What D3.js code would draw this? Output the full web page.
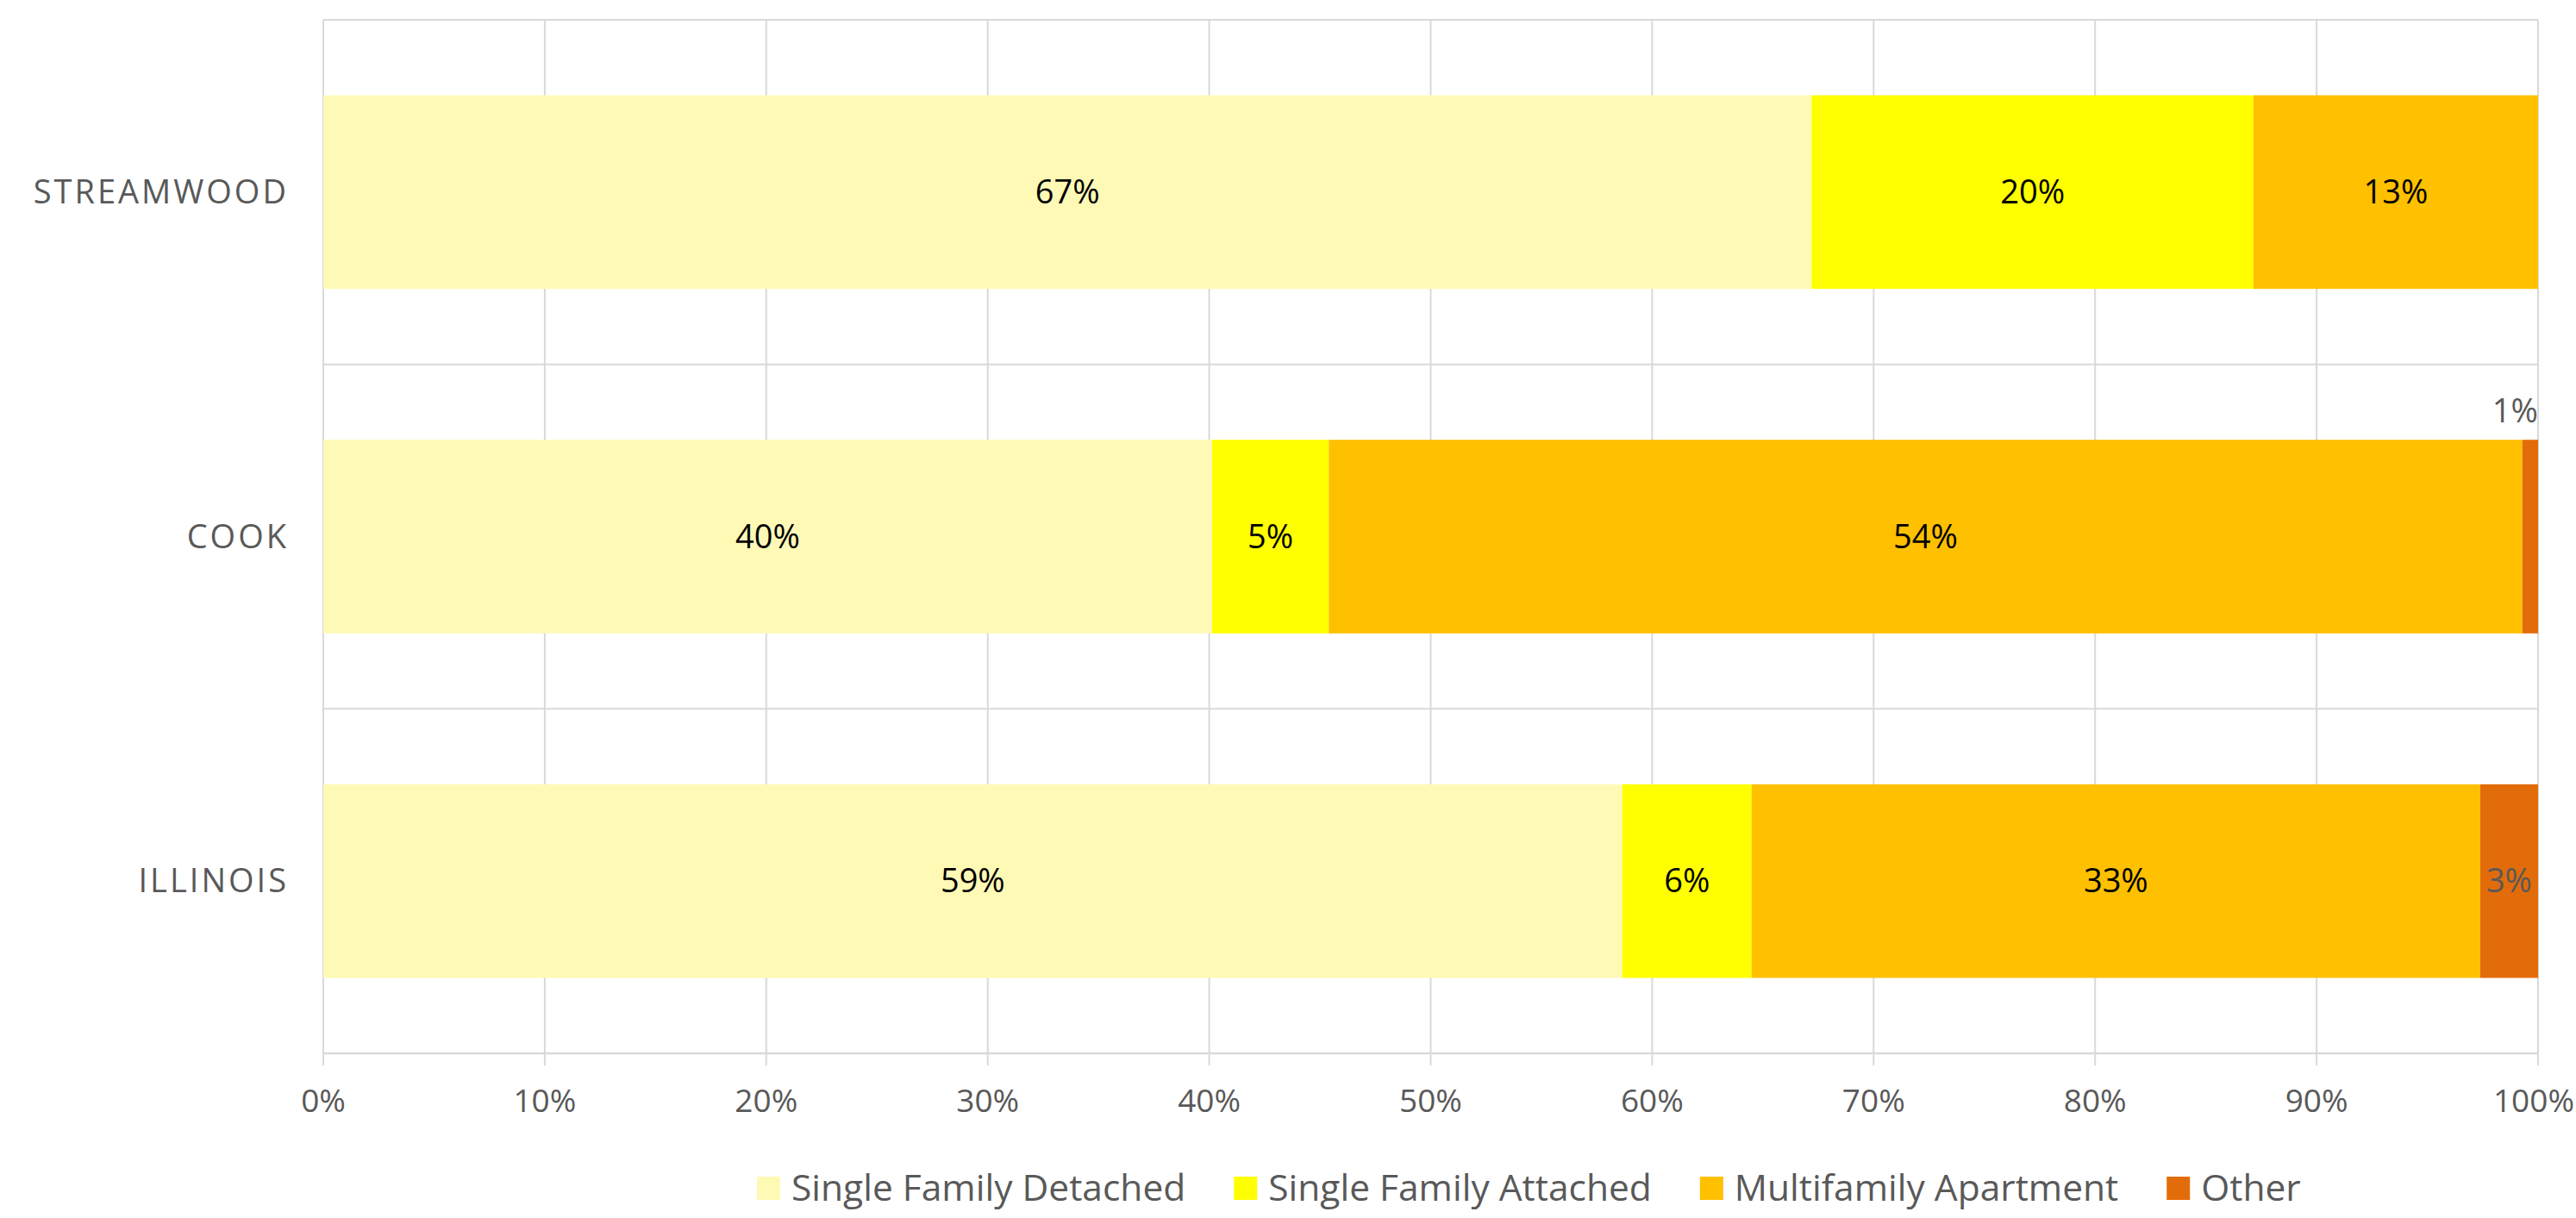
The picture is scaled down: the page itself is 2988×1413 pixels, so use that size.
<!DOCTYPE html>
<html>
<head>
<meta charset="utf-8">
<script src="https://cdn.jsdelivr.net/npm/d3@7"></script>
<style>
  html, body { margin: 0; padding: 0; background: #ffffff; }
  svg { display: block; }
  text { font-family: "Open Sans", "Noto Sans", sans-serif; }
</style>
</head>
<body>
<svg id="chart" width="2988" height="1413"></svg>
<script>
// ---- data ----
const categories = ["STREAMWOOD", "COOK", "ILLINOIS"];
const seriesNames = ["Single Family Detached", "Single Family Attached", "Multifamily Apartment", "Other"];
const seriesColors = ["#FFF9B6", "#FFFF00", "#FFC000", "#E36C0A"];
const singleFamilyDetached = [0.672, 0.4013, 0.5865];
const singleFamilyAttached = [0.1995, 0.0527, 0.0584];
const multifamilyApartment = [0.1285, 0.5389, 0.329];
const other = [0.0, 0.0071, 0.0261];
const tickValues = [0, 0.1, 0.2, 0.3, 0.4, 0.5, 0.6, 0.7, 0.8, 0.9, 1.0];

const seriesValues = [singleFamilyDetached, singleFamilyAttached, multifamilyApartment, other];
const rows = categories.map((c, i) => {
  const r = { category: c };
  seriesNames.forEach((s, j) => { r[s] = seriesValues[j][i]; });
  return r;
});

// ---- layout ----
const W = 2988, H = 1413;
const plot = { left: 375, right: 2944, top: 23, bottom: 1222 };
const gridColor = "#d9d9d9";
const textGray = "#595959";

const svg = d3.select("#chart");

const x = d3.scaleLinear().domain([0, 1]).range([plot.left, plot.right]);
const y = d3.scaleBand().domain(categories).range([plot.top, plot.bottom])
  .paddingInner(0.438).paddingOuter(0.219);
const color = d3.scaleOrdinal().domain(seriesNames).range(seriesColors);

// vertical gridlines + tick marks
svg.append("g").selectAll("line").data(tickValues).join("line")
  .attr("x1", d => x(d)).attr("x2", d => x(d))
  .attr("y1", plot.top).attr("y2", plot.bottom + 14)
  .attr("stroke", gridColor).attr("stroke-width", 2);

// horizontal category separators
const step = y.step();
const seps = d3.range(categories.length + 1).map(i => plot.top + i * step);
svg.append("g").selectAll("line").data(seps).join("line")
  .attr("x1", plot.left).attr("x2", plot.right)
  .attr("y1", d => d).attr("y2", d => d)
  .attr("stroke", gridColor).attr("stroke-width", (d, i) => i === categories.length ? 2.5 : 2);

// x tick labels
svg.append("g").selectAll("text").data(tickValues).join("text")
  .attr("y", 1290)
  .attr("text-anchor", "middle")
  .attr("font-size", 37).attr("fill", textGray)
  .text(d => d3.format(".0%")(d))
  .each(function(d) {
    const w = this.getComputedTextLength();
    const cx = Math.min(x(d), W - w / 2 - 2);
    d3.select(this).attr("x", cx);
  });

// category labels
svg.append("g").selectAll("text").data(categories).join("text")
  .attr("x", plot.left - 40)
  .attr("y", d => y(d) + y.bandwidth() / 2)
  .attr("dy", "0.35em")
  .attr("text-anchor", "end")
  .attr("font-size", 38).attr("letter-spacing", 3)
  .attr("fill", textGray)
  .text(d => d);

// stacked bars
const stacked = d3.stack().keys(seriesNames)(rows);
const layers = svg.append("g").selectAll("g").data(stacked).join("g")
  .attr("fill", d => color(d.key));
layers.selectAll("rect").data(d => d.map(p => ({ key: d.key, p }))).join("rect")
  .attr("x", d => x(d.p[0]))
  .attr("width", d => Math.max(0, x(d.p[1]) - x(d.p[0])))
  .attr("y", d => y(d.p.data.category))
  .attr("height", y.bandwidth());

// data labels
const labelFmt = d3.format(".0%");
const labelGroup = svg.append("g");
stacked.forEach(layer => {
  layer.forEach(p => {
    const v = p[1] - p[0];
    if (v <= 0) return;
    const txt = labelFmt(v);
    const isOther = layer.key === "Other";
    const segW = x(p[1]) - x(p[0]);
    const t = labelGroup.append("text")
      .attr("font-size", 38)
      .attr("fill", isOther ? textGray : "#000000")
      .text(txt);
    const tw = t.node().getComputedTextLength();
    if (tw > segW + 10) {
      // label does not fit: place above the bar, ending at segment end
      t.attr("x", x(p[1])).attr("y", y(p.data.category) - 20)
        .attr("text-anchor", "end");
    } else {
      t.attr("x", (x(p[0]) + x(p[1])) / 2)
        .attr("y", y(p.data.category) + y.bandwidth() / 2)
        .attr("dy", "0.35em")
        .attr("text-anchor", "middle");
    }
  });
});

// legend
const legend = svg.append("g");
let lx = 878;
const ly = 1392;
seriesNames.forEach((s, i) => {
  legend.append("rect")
    .attr("x", lx).attr("y", ly - 27)
    .attr("width", 27).attr("height", 27)
    .attr("fill", color(s));
  const t = legend.append("text")
    .attr("x", lx + 40).attr("y", ly + 1)
    .attr("font-size", 42.5).attr("fill", textGray)
    .text(s);
  lx = lx + 40 + t.node().getComputedTextLength() + 56;
});
</script>
</body>
</html>
